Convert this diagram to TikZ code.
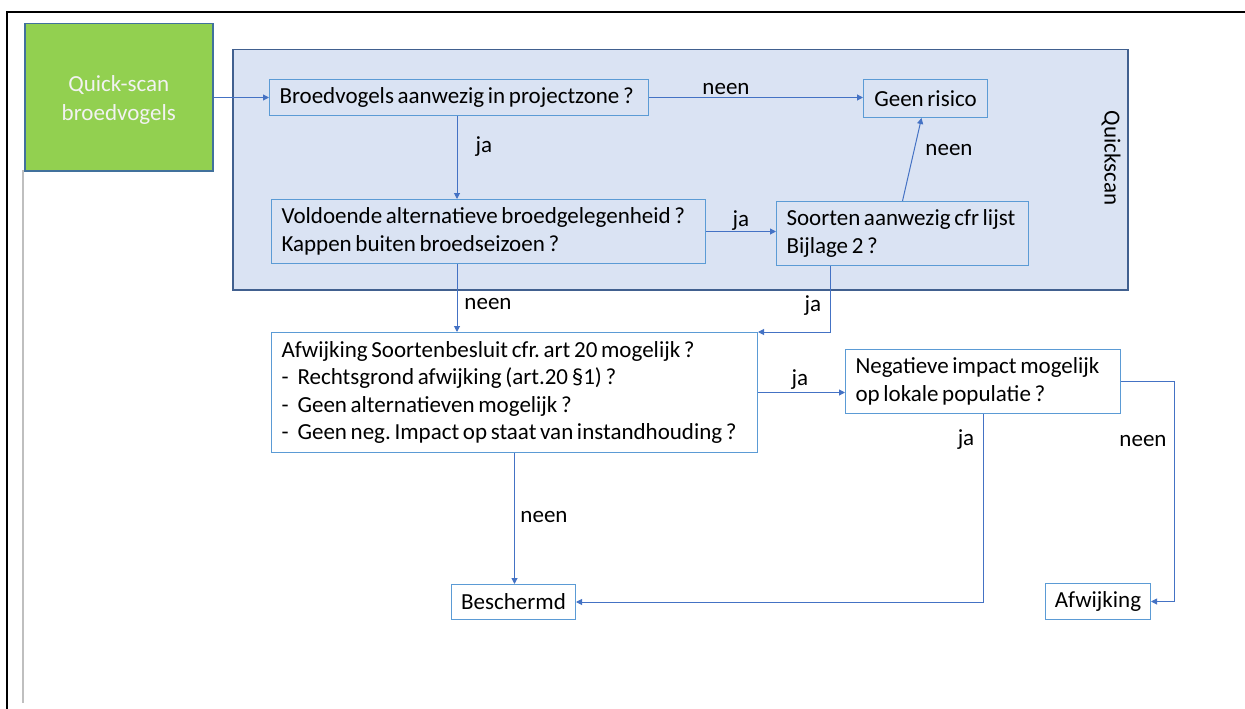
\documentclass[tikz,border=0pt]{standalone}
\usepackage{fontspec}
\setmainfont{Carlito}
\usetikzlibrary{arrows.meta}
\definecolor{lineblue}{HTML}{4472C4}
\definecolor{boxblue}{HTML}{5B9BD5}
\definecolor{qsfill}{HTML}{DAE3F3}
\definecolor{qsborder}{HTML}{41608F}
\definecolor{greenfill}{HTML}{92D050}
\definecolor{greenborder}{HTML}{41719C}
\definecolor{framegray}{HTML}{BFBFBF}
\frenchspacing
\newcommand\tightspaces{\spaceskip=0.16em\relax}
\begin{document}
\begin{tikzpicture}[x=1pt,y=-1pt,
  every node/.style={font=\fontsize{23}{27.5}\selectfont, text=black, execute at begin node=\tightspaces},
  box/.style={draw=boxblue, line width=1pt, anchor=north west, inner xsep=10pt, inner ysep=0pt, align=left},
  cbox/.style={box, align=center, inner xsep=0pt},
  arr/.style={draw=lineblue, line width=1pt, -{Triangle[length=6pt,width=6pt]}},
  lbl/.style={anchor=base, inner sep=0pt}]
\useasboundingbox (0,0) rectangle (1245,709);
% page frame
\draw[black, line width=2pt] (7,709) -- (7,12) -- (1245,12);
\draw[framegray, line width=2pt] (23,170) -- (23,703);
% quickscan container
\node[draw=qsborder, fill=qsfill, line width=1.5pt, minimum width=895pt, minimum height=240pt, anchor=north west, inner sep=0pt] (QS) at (232,49) {};
\node[rotate=-90] (QSl) at (1111,158) {Quickscan};
% green start box
\node[fill=greenfill, draw=greenborder, line width=1.5pt, minimum width=188pt, minimum height=147pt, anchor=north west, inner sep=0pt, text=white!95!black, align=center, font=\fontsize{23}{29}\selectfont] (Q) at (24,23) {\rule{0pt}{22pt}Quick-scan\\broedvogels};
% boxes
\node[box, text width=359pt, minimum height=36pt] (A) at (269,79) {\mbox{Broedvogels aanwezig in projectzone ?}};
\node[cbox, text width=124pt, minimum height=38pt] (G) at (863,79) {Geen risico};
\node[box, text width=414pt, minimum height=64pt] (V) at (271,199) {\mbox{Voldoende alternatieve broedgelegenheid ?}\\\mbox{Kappen buiten broedseizoen ?}};
\node[box, text width=232pt, minimum height=64pt] (S) at (776,201) {\mbox{Soorten aanwezig cfr lijst}\\Bijlage 2 ?};
\node[box, fill=white, text width=466pt, minimum height=120pt] (W) at (271,332) {\mbox{Afwijking Soortenbesluit cfr. art 20 mogelijk ?}\\
\mbox{-\hspace{9pt}Rechtsgrond afwijking (art.20 §1) ?}\\
\mbox{-\hspace{9pt}Geen alternatieven mogelijk ?}\\
\mbox{-\hspace{9pt}Geen neg. Impact op staat van instandhouding ?}};
\node[box, fill=white, text width=255pt, minimum height=64pt] (N) at (845,349) {\mbox{Negatieve impact mogelijk}\\op lokale populatie ?};
\node[cbox, fill=white, text width=124pt, minimum height=35pt] (B) at (451,584) {Beschermd};
\node[cbox, fill=white, text width=105pt, minimum height=36pt] (F) at (1045,583) {Afwijking};
% connectors
\draw[arr] (Q.east |- A.west) -- (A.west);
\draw[arr] (A.east) -- (A.east -| G.west);
\draw[arr] ([xshift=-2pt]A.south) -- ([xshift=-2pt]A.south |- V.north);
\draw[arr] (V.east) -- (V.east -| S.west);
\draw[arr] (S.north) -- ([xshift=-4pt]G.south);
\draw[arr] ([xshift=-2pt]A.south |- V.south) -- ([xshift=-2pt]A.south |- W.north);
\draw[arr] ([xshift=54pt]S.south west) |- (W.north east);
\draw[arr] (W.east) -- (W.east -| N.west);
\draw[arr] (W.south) -- (W.south |- B.north);
\draw[arr] (N.south) |- (B.east);
\draw[arr] (N.east) -- ++(53,0) |- (F.east);
% labels
\node[lbl] (l1) at (726,95) {neen};
\node[lbl] (l2) at (484,152) {ja};
\node[lbl] (l3) at (741,226) {ja};
\node[lbl] (l4) at (949,155) {neen};
\node[lbl] (l5) at (488,309) {neen};
\node[lbl] (l6) at (813,311) {ja};
\node[lbl] (l7) at (800,385) {ja};
\node[lbl] (l8) at (966,445) {ja};
\node[lbl] (l9) at (1143,446) {neen};
\node[lbl] (l10) at (544,522) {neen};
\end{tikzpicture}
\end{document}
